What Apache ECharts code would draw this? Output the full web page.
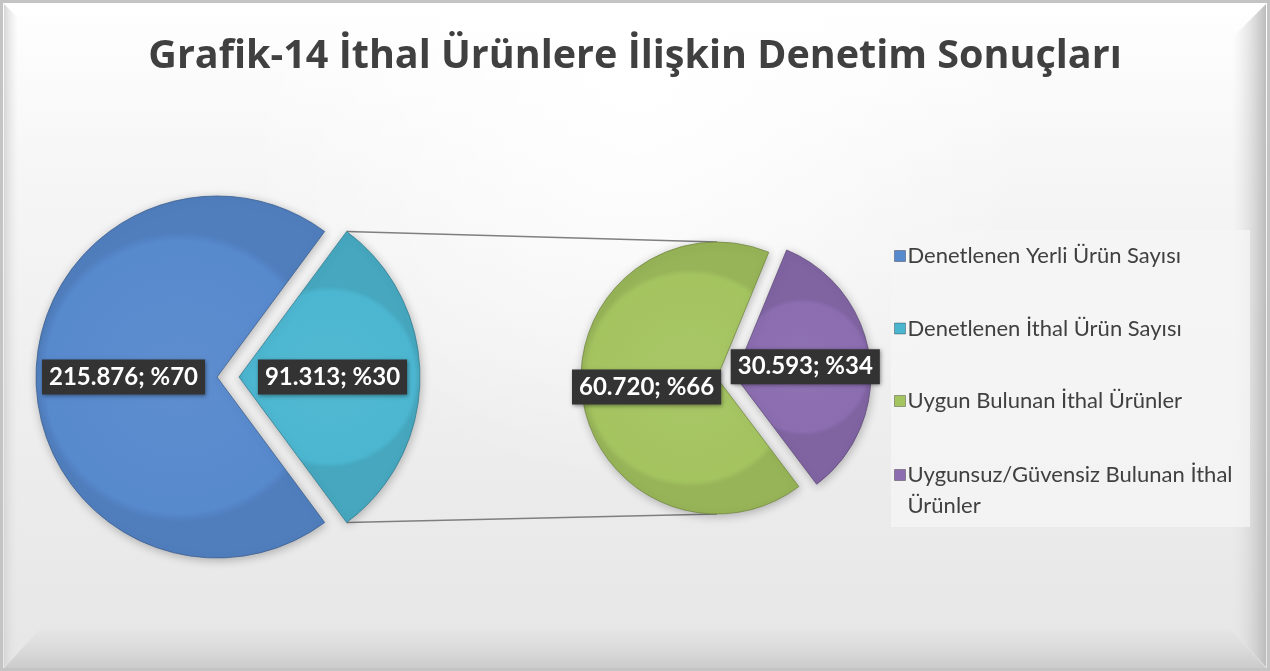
<!DOCTYPE html>
<html>
<head>
<meta charset="utf-8">
<script src="https://cdn.jsdelivr.net/npm/echarts@6/dist/echarts.min.js"></script>
<style>
html,body{margin:0;padding:0;background:#ffffff;}
#chart{width:1270px;height:671px;}
</style>
</head>
<body>
<div id="chart"></div>
<script>
// ---- data ----
const titleText = 'Grafik-14 İthal Ürünlere İlişkin Denetim Sonuçları';
const mainCategories = ['Denetlenen Yerli Ürün Sayısı', 'Denetlenen İthal Ürün Sayısı'];
const mainValues = [215876, 91313];
const subCategories = ['Uygun Bulunan İthal Ürünler', 'Uygunsuz/Güvensiz Bulunan İthal Ürünler'];
const subValues = [60720, 30593];
const mainColors = ['#5789cd', '#4cb6d0'];
const subColors = ['#a4c460', '#8b6db0'];

// ---- geometry ----
const W = 1270, H = 671;
const mainCenter = [217, 377], mainR = 181, mainOffset = 22;
const subCenter = [717, 378], subR = 136, subOffset = 18;

function fmtNum(v){ return String(v).replace(/\B(?=(\d{3})+(?!\d))/g, '.'); }
function shade(hex, f){
  const n = parseInt(hex.slice(1),16);
  let r=(n>>16)&255,g=(n>>8)&255,b=n&255;
  const c = x => Math.max(0,Math.min(255,Math.round(f<0? x*(1+f) : x+(255-x)*f)));
  return 'rgb('+c(r)+','+c(g)+','+c(b)+')';
}
function sliceStyle(col){
  return {
    color: {type:'radial', x:0.5, y:0.5, r:0.5, colorStops:[
      {offset:0, color: shade(col, 0.04)},
      {offset:0.94, color: col},
      {offset:1, color: shade(col, -0.08)}
    ]},
    borderColor: shade(col, -0.3), borderWidth: 0.8,
    shadowBlur: 10, shadowColor: 'rgba(0,0,0,0.25)', shadowOffsetX: 1, shadowOffsetY: 2
  };
}

const mainTotal = mainValues[0] + mainValues[1];
const mainStart = -(360 * mainValues[1] / mainTotal) / 2;
const subTotal = subValues[0] + subValues[1];
const subStart = 307;

function makeLabel(total){
  return {
    show: true, position: 'inside',
    formatter: p => fmtNum(p.value) + '; %' + Math.round(p.value / total * 100),
    color: '#ffffff', fontFamily: 'Lato', fontWeight: 'bold', fontSize: 24,
    backgroundColor: '#333333', padding: [6, 7, 5, 7],
    shadowBlur: 4, shadowColor: 'rgba(0,0,0,0.4)', shadowOffsetX: 1, shadowOffsetY: 1
  };
}

const halfAng = Math.PI * (mainValues[1] / mainTotal);
const cx = mainCenter[0] + mainOffset;
const topPt = [cx + mainR * Math.cos(halfAng), mainCenter[1] - mainR * Math.sin(halfAng)];
const botPt = [cx + mainR * Math.cos(halfAng), mainCenter[1] + mainR * Math.sin(halfAng)];

const allNames = mainCategories.concat(subCategories);
const allColors = mainColors.concat(subColors);
function legendItem(i){
  return {name: allNames[i], itemStyle: {color: allColors[i], borderColor: 'rgba(0,0,0,0.3)', borderWidth: 1}};
}
const legendText = {fontFamily:'Lato', fontSize:22, color:'#404040', lineHeight:31, padding:[0,0,0,-3]};

const chart = echarts.init(document.getElementById('chart'), null, {renderer:'canvas'});
chart.setOption({
  animation: false,
  graphic: [
    {type:'rect', z:-20, silent:true, shape:{x:0,y:0,width:W,height:H},
     style:{fill:{type:'linear', x:0, y:0, x2:0, y2:1, colorStops:[
       {offset:0,color:'#ffffff'},{offset:0.25,color:'#f6f6f6'},{offset:0.6,color:'#eeeeee'},{offset:1,color:'#e6e6e6'}]}}},
    {type:'rect', z:-19, silent:true, shape:{x:0,y:0,width:W,height:H},
     style:{fill:{type:'radial', x:0.5, y:0.12, r:0.6, colorStops:[
       {offset:0,color:'rgba(255,255,255,1)'},{offset:1,color:'rgba(255,255,255,0)'}]}}},
    {type:'polygon', z:-18, silent:true, shape:{points:[[4,H-3],[W-4,H-3],[W-40,H-42],[40,H-42]]},
     style:{fill:{type:'linear',x:0,y:0,x2:0,y2:1,colorStops:[{offset:0,color:'rgba(228,228,228,0.6)'},{offset:1,color:'#cbcbcb'}]}}},
    {type:'polygon', z:-17, silent:true, shape:{points:[[W-4,4],[W-38,38],[W-38,H-40],[W-4,H-4]]},
     style:{fill:{type:'linear',x:0,y:0,x2:1,y2:0,colorStops:[{offset:0,color:'rgba(225,225,225,0)'},{offset:1,color:'#bcbcbc'}]}}},
    {type:'polygon', z:-17, silent:true, shape:{points:[[4,4],[18,18],[18,H-18],[4,H-4]]},
     style:{fill:{type:'linear',x:0,y:0,x2:1,y2:0,colorStops:[{offset:0,color:'#d6d6d6'},{offset:1,color:'rgba(230,230,230,0)'}]}}},
    {type:'rect', z:-16, silent:true, shape:{x:1.5,y:1.5,width:W-3,height:H-3},
     style:{fill:'none', stroke:'#c4c4c4', lineWidth:3}},
    // legend box
    {type:'rect', z:-10, silent:true, shape:{x:891,y:230,width:359,height:297},
     style:{fill:'rgba(245,245,245,0.75)'}},
    // connector lines
    {type:'line', z:1, silent:true, shape:{x1:topPt[0],y1:topPt[1],x2:subCenter[0],y2:subCenter[1]-subR},
     style:{stroke:'#7f7f7f', lineWidth:1.6}},
    {type:'line', z:1, silent:true, shape:{x1:botPt[0],y1:botPt[1],x2:subCenter[0],y2:subCenter[1]+subR},
     style:{stroke:'#7f7f7f', lineWidth:1.6}}
  ],
  title: {
    text: titleText, left: 'center', top: 32,
    textStyle: {fontFamily:'Open Sans', fontWeight:'bold', fontSize:39.5, color:'#404040'}
  },
  legend: [
    {
      orient: 'vertical', left: 894, top: 240.5, padding: 0,
      itemGap: 41.5, itemWidth: 11, itemHeight: 11, icon: 'rect',
      textStyle: legendText,
      data: [legendItem(0), legendItem(1), legendItem(2)]
    },
    {
      orient: 'vertical', left: 894, top: 428.5, padding: 0,
      itemWidth: 11, itemHeight: 11, icon: 'rect',
      textStyle: legendText,
      formatter: () => '\nUygunsuz/Güvensiz Bulunan İthal\nÜrünler',
      data: [legendItem(3)]
    }
  ],
  series: [
    {
      type: 'pie', center: mainCenter, radius: mainR, startAngle: mainStart,
      selectedMode: 'single', selectedOffset: mainOffset,
      avoidLabelOverlap: false, label: makeLabel(mainTotal), labelLine:{show:false},
      labelLayout: {hideOverlap: false},
      emphasis: {disabled: true},
      data: mainCategories.map((n,i)=>({name:n, value:mainValues[i], selected: i===1, itemStyle: sliceStyle(mainColors[i])}))
    },
    {
      type: 'pie', center: subCenter, radius: subR, startAngle: subStart,
      selectedMode: 'single', selectedOffset: subOffset,
      avoidLabelOverlap: false, label: makeLabel(subTotal), labelLine:{show:false},
      labelLayout: {hideOverlap: false},
      emphasis: {disabled: true},
      data: subCategories.map((n,i)=>({name:n, value:subValues[i], selected: i===1, itemStyle: sliceStyle(subColors[i])}))
    }
  ]
});
</script>
</body>
</html>
